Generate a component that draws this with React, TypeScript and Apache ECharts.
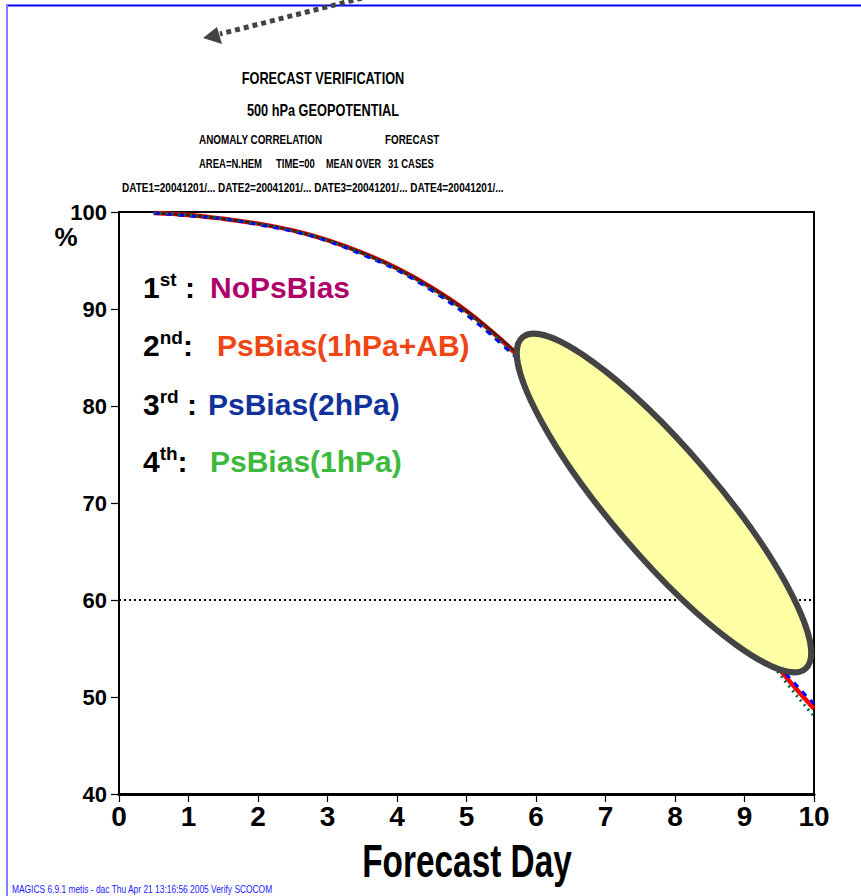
import React, { useEffect, useRef } from "react";
import * as echarts from "echarts";

// Forecast lead time (days) of each verification point
const days = [0.5, 1, 1.5, 2, 2.5, 3, 3.5, 4, 4.5, 5, 5.5, 6, 6.5, 7, 7.5, 8, 8.5, 9, 9.5, 10];

// 500 hPa geopotential anomaly correlation (%) per experiment
const noPsBias = [99.9, 99.7, 99.3, 98.8, 98.1, 97.1, 95.8, 94.2, 92.2, 89.8, 86.9, 83.6, 80.1, 76.5, 72.8, 69.0, 65.2, 61.4, 57.7, 54.2];
const psBias1hPaAB = [99.9, 99.7, 99.3, 98.8, 98.1, 97.1, 95.8, 94.2, 92.2, 89.8, 86.8, 83.3, 79.6, 75.6, 71.4, 67.0, 62.4, 57.7, 52.9, 48.8];
const psBias2hPa = [99.9, 99.6, 99.3, 98.7, 98.0, 97.0, 95.6, 94.0, 91.9, 89.4, 86.4, 83.0, 79.3, 75.4, 71.3, 67.0, 62.5, 57.9, 53.2, 49.3];
const psBias1hPa = [99.9, 99.7, 99.3, 98.8, 98.1, 97.1, 95.7, 94.1, 92.0, 89.6, 86.6, 83.1, 79.4, 75.4, 71.2, 66.8, 62.2, 57.4, 52.4, 48.0];

// Reference level drawn as a dotted line
const referenceLevel = 60;

// Axis ranges: min, max, interval
const xTicks = [0, 10, 1];
const yTicks = [40, 100, 10];

// Legend entries: ordinal, suffix, separator, experiment name, colour
const expOrdinals = ["1", "2", "3", "4"];
const expSuffixes = ["st", "nd", "rd", "th"];
const expSeparators = [" :", ":", " :", ":"];
const expNames = ["NoPsBias", "PsBias(1hPa+AB)", "PsBias(2hPa)", "PsBias(1hPa)"];
const expColors = ["#b0006b", "#ef4614", "#10329a", "#3dba3d"];

const headerLines = ["FORECAST VERIFICATION", "500 hPa GEOPOTENTIAL"];
const footerText = "MAGICS 6.9.1 metis - dac Thu Apr 21 13:16:56 2005 Verify SCOCOM";
const xTitle = "Forecast Day";

const SANS = "'Liberation Sans', Arial, Helvetica, sans-serif";

function pairs(values: number[]) {
  return days.map((d, i) => [d, values[i]]);
}

export default function App() {
  const ref = useRef<HTMLDivElement>(null);

  useEffect(() => {
    if (!ref.current) return;
    const chart = echarts.init(ref.current, undefined, { renderer: "svg" });

    const legendRowY = [287, 345, 404, 461];
    const legendNameX = [210, 217, 208, 210];

    const legendGraphics: any[] = [];
    expOrdinals.forEach((ord, i) => {
      legendGraphics.push({
        type: "text",
        x: 143,
        y: legendRowY[i],
        z: 110,
        style: {
          text: `{n|${ord}}{s|${expSuffixes[i]}}{n|${expSeparators[i]}}`,
          align: "left",
          verticalAlign: "middle",
          rich: {
            n: { fontFamily: SANS, fontWeight: "bold", fontSize: 30, fill: "#000", lineHeight: 34 },
            s: { fontFamily: SANS, fontWeight: "bold", fontSize: 19, fill: "#000", lineHeight: 19, verticalAlign: "top" },
          },
        },
      });
      legendGraphics.push({
        type: "text",
        x: legendNameX[i],
        y: legendRowY[i],
        z: 110,
        style: {
          text: expNames[i],
          fontFamily: SANS,
          fontWeight: "bold",
          fontSize: 30,
          fill: expColors[i],
          align: "left",
          verticalAlign: "middle",
        },
      });
    });

    // condensed bold header text
    const headerText = (text: string, x: number, y: number, size: number, sx: number, align = "left") => ({
      type: "text",
      x,
      y,
      scaleX: sx,
      style: {
        text,
        fontFamily: SANS,
        fontWeight: "bold",
        fontSize: size,
        fill: "#000",
        align,
        verticalAlign: "middle",
      },
    });

    chart.setOption({
      animation: false,
      backgroundColor: "#ffffff",
      grid: {
        left: 119,
        right: 47,
        top: 212,
        bottom: 102,
        show: true,
        borderColor: "#000",
        borderWidth: 2,
        backgroundColor: "transparent",
      },
      xAxis: {
        type: "value",
        min: xTicks[0],
        max: xTicks[1],
        interval: xTicks[2],
        axisLine: { show: true, onZero: false, lineStyle: { color: "#000", width: 3 } },
        axisTick: { show: true, inside: false, length: 8, lineStyle: { color: "#000", width: 1.2 } },
        axisLabel: {
          margin: 8,
          fontFamily: SANS,
          fontWeight: "bold",
          fontSize: 28,
          color: "#000",
        },
        splitLine: { show: false },
      },
      yAxis: {
        type: "value",
        min: yTicks[0],
        max: yTicks[1],
        interval: yTicks[2],
        axisLine: { show: true, onZero: false, lineStyle: { color: "#000", width: 1.5 } },
        axisTick: { show: true, inside: false, length: 8, lineStyle: { color: "#000", width: 1.2 } },
        axisLabel: {
          margin: 12,
          fontFamily: SANS,
          fontWeight: "bold",
          fontSize: 22,
          color: "#000",
        },
        splitLine: { show: false },
      },
      series: [
        {
          name: "Reference",
          type: "line",
          data: [[xTicks[0], referenceLevel], [xTicks[1], referenceLevel]],
          showSymbol: false,
          silent: true,
          lineStyle: { color: "#000", width: 2, type: [2, 3] },
          z: 1,
        },
        {
          name: "PsBias(1hPa+AB)",
          type: "line",
          data: pairs(psBias1hPaAB),
          showSymbol: false,
          smooth: 0.4,
          lineStyle: { color: "#ff0000", width: 4.5 },
          z: 2,
        },
        {
          name: "NoPsBias",
          type: "line",
          data: pairs(noPsBias),
          showSymbol: false,
          smooth: 0.4,
          lineStyle: { color: "#6e0c00", width: 3 },
          z: 3,
        },
        {
          name: "PsBias(2hPa)",
          type: "line",
          data: pairs(psBias2hPa),
          showSymbol: false,
          smooth: 0.4,
          lineStyle: { color: "#0000ff", width: 3, type: [6, 6] },
          z: 4,
        },
        {
          name: "PsBias(1hPa)",
          type: "line",
          data: pairs(psBias1hPa),
          showSymbol: false,
          smooth: 0.4,
          lineStyle: { color: "#00704a", width: 3, type: [2, 4] },
          z: 5,
        },
      ],
      graphic: [
        // page frame
        { type: "line", z: 50, shape: { x1: 6, y1: 5.5, x2: 861, y2: 5.5 }, style: { stroke: "#0000ff", lineWidth: 2 } },
        { type: "line", z: 50, shape: { x1: 7, y1: 5, x2: 7, y2: 896 }, style: { stroke: "#8080ff", lineWidth: 2 } },
        // dotted pointer arrow
        {
          type: "line",
          z: 60,
          shape: { x1: 362, y1: -2, x2: 220, y2: 34 },
          style: { stroke: "#444", lineWidth: 5, lineDash: [5, 4] },
        },
        {
          type: "polygon",
          z: 60,
          shape: { points: [[203, 38], [217, 27], [222, 44]] },
          style: { fill: "#444" },
        },
        // header
        headerText(headerLines[0], 323, 78, 17, 0.75, "center"),
        headerText(headerLines[1], 323, 110, 17, 0.75, "center"),
        headerText("ANOMALY CORRELATION", 199, 139, 13, 0.76),
        headerText("FORECAST", 385, 139, 13, 0.76),
        headerText("AREA=N.HEM", 199, 163, 13, 0.73),
        headerText("TIME=00", 276, 163, 13, 0.73),
        headerText("MEAN OVER", 326, 163, 13, 0.7),
        headerText("31 CASES", 388, 163, 13, 0.73),
        headerText("DATE1=20041201/... DATE2=20041201/... DATE3=20041201/... DATE4=20041201/...", 122, 188, 12.5, 0.8),
        // y unit
        {
          type: "text",
          x: 66,
          y: 237,
          style: {
            text: "%",
            fontFamily: SANS,
            fontWeight: "bold",
            fontSize: 26,
            fill: "#000",
            align: "center",
            verticalAlign: "middle",
          },
        },
        // x axis title
        {
          type: "text",
          x: 467,
          y: 861,
          scaleX: 0.71,
          style: {
            text: xTitle,
            fontFamily: SANS,
            fontWeight: "bold",
            fontSize: 47,
            fill: "#000",
            align: "center",
            verticalAlign: "middle",
          },
        },
        // highlight ellipse
        {
          type: "ellipse",
          x: 664,
          y: 503,
          rotation: -49.5 * Math.PI / 180,
          z: 100,
          shape: { cx: 0, cy: 0, rx: 218, ry: 53 },
          style: { fill: "#ffffa6", stroke: "#444", lineWidth: 6 },
        },
        ...legendGraphics,
        // footer
        {
          type: "text",
          x: 12,
          y: 889,
          scaleX: 0.8,
          style: {
            text: footerText,
            fontFamily: SANS,
            fontSize: 10.5,
            fill: "#2020ff",
            align: "left",
            verticalAlign: "middle",
          },
        },
      ],
    });

    return () => chart.dispose();
  }, []);

  return (
    <div
      ref={ref}
      style={{ position: "absolute", left: 0, top: 0, width: 861, height: 896, background: "#fff" }}
    />
  );
}
